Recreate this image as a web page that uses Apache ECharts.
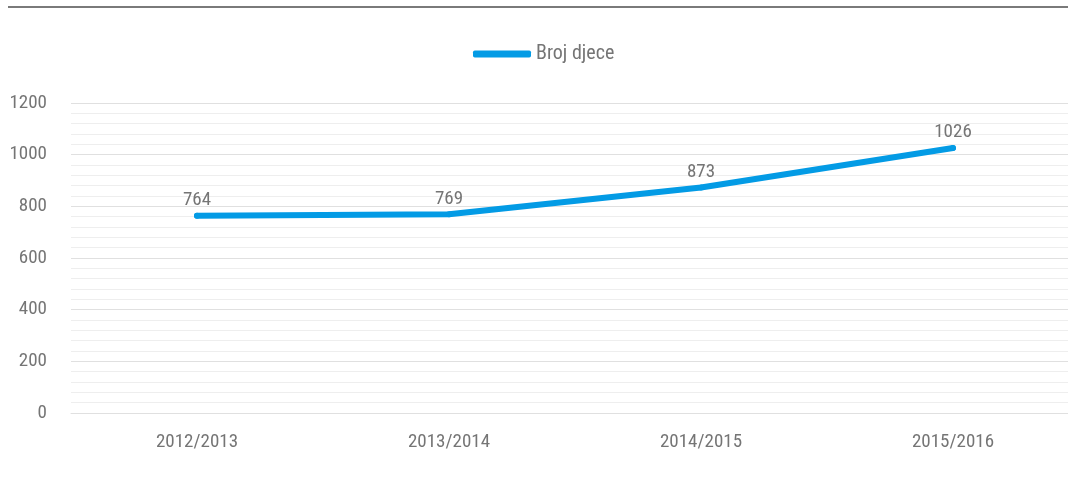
<!DOCTYPE html>
<html>
<head>
<meta charset="utf-8">
<script src="https://cdn.jsdelivr.net/npm/echarts@6/dist/echarts.min.js"></script>
<style>
html,body{margin:0;padding:0;background:#fff;}
#chart{width:1068px;height:481px;}
</style>
</head>
<body>
<div id="chart"></div>
<script>
const categories = ['2012/2013', '2013/2014', '2014/2015', '2015/2016'];
const seriesName = 'Broj djece';
const values = [764, 769, 873, 1026];
const yTicks = [0, 200, 400, 600, 800, 1000, 1200];

const FONT = '"Roboto Condensed", "Liberation Sans Narrow", "Roboto", sans-serif';
const TXT = '#757575';
const chart = echarts.init(document.getElementById('chart'), null, {renderer: 'canvas'});
chart.setOption({
  backgroundColor: '#fff',
  animation: false,
  graphic: [{
    type: 'rect',
    shape: {x: 8, y: 6, width: 1060, height: 2},
    style: {fill: '#7a7a7a'}
  }],
  legend: {
    data: [seriesName],
    top: 39,
    left: 468,
    icon: 'roundRect',
    itemWidth: 58,
    itemHeight: 7,
    itemGap: 10,
    textStyle: {color: TXT, fontSize: 20, fontFamily: FONT}
  },
  grid: {left: 71, top: 103, width: 1008, bottom: 68, outerBoundsMode: 'none', containLabel: false},
  xAxis: {
    type: 'category',
    data: categories,
    boundaryGap: true,
    axisLine: {show: true, lineStyle: {color: '#e0e0e0', width: 1}},
    axisTick: {show: false},
    axisLabel: {color: TXT, fontSize: 19, fontFamily: FONT, margin: 20}
  },
  yAxis: {
    type: 'value',
    min: yTicks[0],
    max: yTicks[yTicks.length - 1],
    interval: 200,
    axisLine: {show: false},
    axisTick: {show: false},
    axisLabel: {color: TXT, fontSize: 19, fontFamily: FONT, margin: 24, formatter: v => String(v)},
    splitLine: {show: true, lineStyle: {color: '#e0e0e0', width: 1}},
    minorTick: {show: false, splitNumber: 5},
    minorSplitLine: {show: true, lineStyle: {color: '#eeeeee', width: 1}}
  },
  series: [{
    name: seriesName,
    type: 'line',
    data: values,
    symbol: 'circle',
    symbolSize: 6,
    showSymbol: true,
    itemStyle: {color: '#039be5'},
    lineStyle: {color: '#039be5', width: 6, cap: 'round', join: 'round'},
    label: {show: true, position: 'top', distance: 3, color: TXT, fontSize: 19, fontFamily: FONT}
  }]
});
</script>
</body>
</html>
